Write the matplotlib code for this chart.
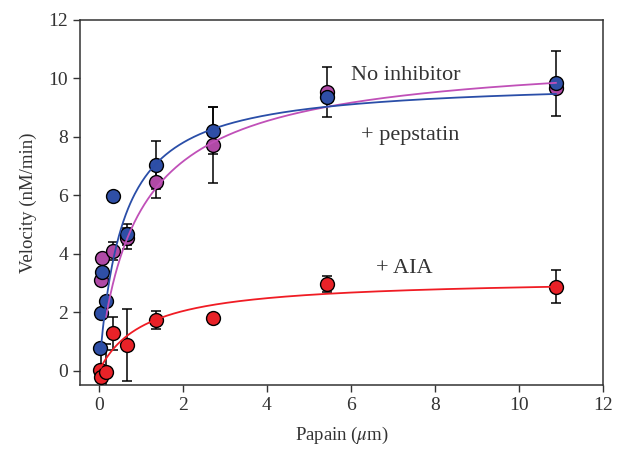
import matplotlib
matplotlib.use("Agg")
import matplotlib.pyplot as plt
import numpy as np

plt.rcParams['font.family'] = ['Liberation Serif', 'DejaVu Serif']
plt.rcParams['mathtext.fontset'] = 'stix'

# no inhibitor (blue)
x_none = [0.02, 0.0425, 0.085, 0.17, 0.34, 0.68, 1.36, 2.72, 5.44, 10.88]
y_none = [0.78, 1.97, 3.37, 2.40, 5.97, 4.67, 7.04, 8.22, 9.38, 9.83]
e_none = [0.0, 0.0, 0.0, 0.0, 0.0, 0.35, 0.83, 0.8, 0.0, 1.1]

# + pepstatin (purple)
x_pep = [0.0425, 0.085, 0.34, 0.68, 1.36, 2.72, 5.44, 10.88]
y_pep = [3.11, 3.87, 4.10, 4.53, 6.47, 7.73, 9.53, 9.66]
e_pep = [0.0, 0.0, 0.3, 0.35, 0.57, 1.3, 0.85, 0.0]

# + AIA (red)
x_aia = [0.02, 0.0425, 0.17, 0.34, 0.68, 1.36, 2.72, 5.44, 10.88]
y_aia = [0.03, -0.19, -0.02, 1.29, 0.89, 1.74, 1.80, 2.97, 2.88]
e_aia = [0.0, 1.1, 0.95, 0.57, 1.23, 0.3, 0.0, 0.28, 0.56]

# fitted curves: (Vmax, K, hill n, start x)
fit_none = (9.95, 0.55, 1.0, 0.04)
fit_pep = (11.0, 1.0, 0.9, 0.17)
fit_aia = (3.17, 1.095, 1.0, 0.04)

c_blue = '#2f4fa6'
c_pur = '#b04aa6'
c_red = '#e82228'
l_blue = '#2a4ea8'
l_pur = '#c050b8'
l_red = '#f01c24'


def hill(fit):
    vm, k, n, x0 = fit
    xs = np.linspace(x0, 10.88, 400)
    return xs, vm * xs ** n / (k ** n + xs ** n)


fig = plt.figure(figsize=(6.17, 4.51), dpi=100)
ax = fig.add_axes([0.1297, 0.1463, 0.8475, 0.8094])

for xs, ys, es, col in [(x_pep, y_pep, e_pep, c_pur),
                        (x_none, y_none, e_none, c_blue),
                        (x_aia, y_aia, e_aia, c_red)]:
    ax.errorbar(xs, ys, yerr=es, fmt='none', ecolor='black', elinewidth=1.1,
                capsize=3.6, capthick=1.1, zorder=2)
    ax.plot(xs, ys, 'o', ms=10, mfc=col, mec='black', mew=1.0, zorder=3)

for fit, col in [(fit_pep, l_pur), (fit_none, l_blue), (fit_aia, l_red)]:
    xs, ys = hill(fit)
    ax.plot(xs, ys, color=col, lw=1.3, zorder=4)

ax.text(6.0, 10.1, 'No inhibitor', fontsize=16, color='#333333', va='center')
ax.text(6.23, 8.05, '+ pepstatin', fontsize=16, color='#333333', va='center')
ax.text(6.6, 3.5, '+ AIA', fontsize=16, color='#333333', va='center')

ax.set_xlim(-0.45, 12)
ax.set_ylim(-0.48, 12)
ax.set_xticks(range(0, 13, 2))
ax.set_yticks(range(0, 13, 2))
ax.tick_params(direction='out', length=5, width=1, labelsize=14,
               colors='#333333', top=False, right=False)
for s in ax.spines.values():
    s.set_color('#333333')
    s.set_linewidth(1.1)
ax.set_xlabel(r'Papain ($\mu$m)', fontsize=13.5, color='#333333', labelpad=8)
ax.set_ylabel('Velocity (nM/min)', fontsize=13.5, color='#333333', labelpad=8)

fig.savefig('out.png', dpi=100)
